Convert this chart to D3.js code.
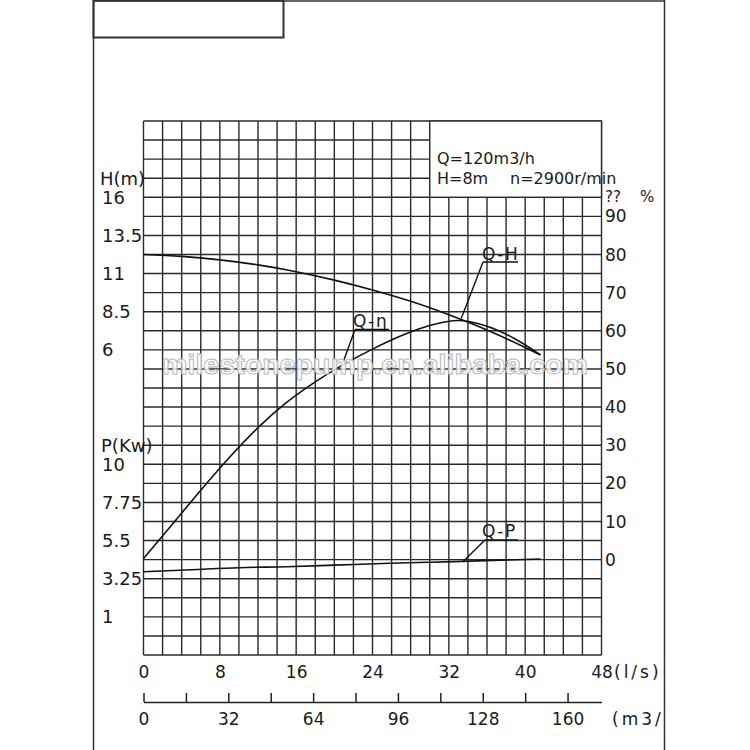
<!DOCTYPE html>
<html><head><meta charset="utf-8">
<script src="https://cdn.jsdelivr.net/npm/d3@7"></script>
<style>html,body{margin:0;padding:0;background:#fff;} svg{display:block;}</style>
</head><body>
<svg id="chart" width="750" height="750"></svg>
<script>
// ---------- data ----------
const flowTicksLs = [0, 8, 16, 24, 32, 40, 48];
const flowTicksM3h = [0, 32, 64, 96, 128, 160];
const flowMinorM3h = [0, 16, 32, 48, 64, 80, 96, 112, 128, 144, 160];
const headTicks = [16, 13.5, 11, 8.5, 6];
const powerTicks = [10, 7.75, 5.5, 3.25, 1];
const effTicks = [90, 80, 70, 60, 50, 40, 30, 20, 10, 0];

const qHead = [0, 4, 8, 12, 16, 20, 24, 28, 32, 36, 40, 41.6];
const headValues = [12.25, 12.13, 11.9, 11.57, 11.12, 10.57, 9.92, 9.18, 8.3, 7.3, 6.15, 5.66];

const qEff = [0, 3, 6, 9, 12, 15, 18, 21, 24, 27, 30, 33, 36, 39, 41.6];
const effValues = [0.3, 9.2, 18.2, 26.8, 34.6, 41.2, 46.6, 51.2, 55.2, 58.7, 61.4, 62.7, 61.2, 57.8, 53.7];

const qPower = [0, 5, 10, 15, 20, 25, 30, 35, 41.6];
const powerValues = [3.66, 3.78, 3.9, 3.96, 4.05, 4.15, 4.22, 4.3, 4.41];

const infoLine1 = "Q=120m3/h";
const infoLine2a = "H=8m";
const infoLine2b = "n=2900r/min";
const watermark = "milestonepump.en.alibaba.com";

// ---------- setup ----------
const svg = d3.select("#chart");
const INK = "#1a1a1a";
const FONT = "'DejaVu Sans', Verdana, sans-serif";

const gx0 = 143.5, gx1 = 601.5, gy0 = 121, gy1 = 655;
const x = d3.scaleLinear().domain([0, 48]).range([gx0, gx1]);
const xM = d3.scaleLinear().domain([0, 172.8]).range([gx0, gx1]);
const col = d3.scaleLinear().domain([0, 24]).range([gx0, gx1]);
const row = d3.scaleLinear().domain([0, 28]).range([gy0, gy1]);
const yH = d3.scaleLinear().domain([16, 6]).range([row(4), row(12)]);
const yE = d3.scaleLinear().domain([90, 0]).range([row(5), row(23)]);
const yP = d3.scaleLinear().domain([10, 1]).range([row(18), row(26)]);

// ---------- outer frame ----------
const frame = svg.append("g").attr("stroke", "#333").attr("fill", "none");
frame.append("line").attr("x1", 93.5).attr("x2", 93.5).attr("y1", 0).attr("y2", 750).attr("stroke-width", 1.5);
frame.append("line").attr("x1", 664.5).attr("x2", 664.5).attr("y1", 0).attr("y2", 750).attr("stroke-width", 1.5);
frame.append("line").attr("x1", 93.5).attr("x2", 664.5).attr("y1", 1).attr("y2", 1).attr("stroke-width", 1.5);
frame.append("rect").attr("x", 93.5).attr("y", 0.5).attr("width", 190).attr("height", 37).attr("stroke-width", 2);

// ---------- grid ----------
const grid = svg.append("g").attr("stroke", "#2a2a2a").attr("stroke-width", 1.4);
grid.selectAll("line.v").data(d3.range(25)).join("line").attr("class", "v")
  .attr("x1", d => col(d)).attr("x2", d => col(d)).attr("y1", gy0).attr("y2", gy1);
grid.selectAll("line.h").data(d3.range(29)).join("line").attr("class", "h")
  .attr("x1", gx0).attr("x2", gx1).attr("y1", d => row(d)).attr("y2", d => row(d));

// info box (covers grid)
svg.append("rect").attr("x", col(15)).attr("y", row(0)).attr("width", col(24) - col(15)).attr("height", row(4) - row(0))
  .attr("fill", "#fff").attr("stroke", "#2a2a2a").attr("stroke-width", 1.4);

// ---------- curves ----------
const curves = svg.append("g").attr("fill", "none").attr("stroke", "#111").attr("stroke-width", 1.6);
const lineH = d3.line().x(d => x(d[0])).y(d => yH(d[1])).curve(d3.curveMonotoneX);
const lineE = d3.line().x(d => x(d[0])).y(d => yE(d[1])).curve(d3.curveMonotoneX);
const lineP = d3.line().x(d => x(d[0])).y(d => yP(d[1])).curve(d3.curveMonotoneX);
curves.append("path").attr("d", lineH(d3.zip(qHead, headValues)));
curves.append("path").attr("d", lineE(d3.zip(qEff, effValues)));
curves.append("path").attr("d", lineP(d3.zip(qPower, powerValues)));

// ---------- annotations ----------
function annotate(label, tx, ty, ulx0, ulx1, uly, tipQ, tipY) {
  const g = svg.append("g");
  g.append("text").attr("x", tx).attr("y", ty).attr("font-family", FONT).attr("font-size", 17)
    .attr("letter-spacing", 1.5).attr("fill", INK).text(label);
  g.append("line").attr("x1", ulx0).attr("x2", ulx1).attr("y1", uly).attr("y2", uly)
    .attr("stroke", "#111").attr("stroke-width", 1.4);
  g.append("line").attr("x1", ulx0).attr("x2", x(tipQ)).attr("y1", uly).attr("y2", tipY)
    .attr("stroke", "#111").attr("stroke-width", 1.4);
}
annotate("Q-H", 482, 260, 483, 518, 262, 33.3, yH(8.05));
annotate("Q-η", 353, 327, 355, 389, 329.5, 20.9, yE(51.6));
annotate("Q-P", 482, 537, 485, 518, 540, 33.5, yP(4.27));

// ---------- info text ----------
const info = svg.append("g").attr("font-family", FONT).attr("font-size", 16).attr("fill", INK);
info.append("text").attr("x", 437).attr("y", 164).text(infoLine1);
info.append("text").attr("x", 437).attr("y", 184).text(infoLine2a);
info.append("text").attr("x", 510).attr("y", 184).text(infoLine2b);

// ---------- left axes labels ----------
const left = svg.append("g").attr("font-family", FONT).attr("font-size", 18).attr("fill", INK);
left.append("text").attr("x", 100).attr("y", row(3)).attr("dy", "0.36em").text("H(m)");
left.selectAll("text.h").data(headTicks).join("text").attr("class", "h")
  .attr("x", 102).attr("y", d => yH(d)).attr("dy", "0.36em").text(d => d);
left.append("text").attr("x", 101).attr("y", row(17)).attr("dy", "0.36em").text("P(Kw)");
left.selectAll("text.p").data(powerTicks).join("text").attr("class", "p")
  .attr("x", 102).attr("y", d => yP(d)).attr("dy", "0.36em").text(d => d);

// ---------- right axis labels ----------
const right = svg.append("g").attr("font-family", FONT).attr("font-size", 17).attr("fill", INK);
right.append("text").attr("x", 605).attr("y", 202).attr("font-size", 15).text("??");
right.append("text").attr("x", 640).attr("y", 202).attr("font-size", 15).text("%");
right.selectAll("text.e").data(effTicks).join("text").attr("class", "e")
  .attr("x", 605).attr("y", d => yE(d)).attr("dy", "0.36em").text(d => d);

// ---------- bottom axes ----------
const axLs = svg.append("g").attr("transform", `translate(0,${gy1})`)
  .call(d3.axisBottom(x).tickValues(flowTicksLs).tickSize(0).tickPadding(11).tickFormat(d3.format("d")));
axLs.select(".domain").remove();
axLs.selectAll("text").attr("font-family", FONT).attr("font-size", 17).attr("fill", INK);
svg.append("text").attr("x", 614).attr("y", 672).attr("dy", "0.36em").attr("letter-spacing", 3)
  .attr("font-family", FONT).attr("font-size", 17).attr("fill", INK).text("(l/s)");

const axY = 702;
const axMt = svg.append("g").attr("transform", `translate(0,${axY})`)
  .call(d3.axisTop(xM).tickValues(flowMinorM3h).tickSize(9).tickSizeOuter(0).tickFormat(""));
axMt.select(".domain").attr("stroke", "#222").attr("stroke-width", 1.5);
axMt.selectAll(".tick line").attr("stroke", "#222").attr("stroke-width", 1.5);

const axMb = svg.append("g").attr("transform", `translate(0,${axY})`)
  .call(d3.axisBottom(xM).tickValues(flowTicksM3h).tickSize(0).tickPadding(11).tickFormat(d3.format("d")));
axMb.select(".domain").remove();
axMb.selectAll("text").attr("font-family", FONT).attr("font-size", 17).attr("fill", INK);

svg.append("clipPath").attr("id", "frameClip").append("rect").attr("x", 0).attr("y", 0).attr("width", 664).attr("height", 750);
svg.append("text").attr("x", 612).attr("y", 719).attr("dy", "0.36em").attr("clip-path", "url(#frameClip)")
  .attr("letter-spacing", 3).attr("font-family", FONT).attr("font-size", 17).attr("fill", INK).text("(m3/h)");

// ---------- watermark ----------
svg.append("text").attr("x", 162).attr("y", 374).attr("textLength", 426).attr("lengthAdjust", "spacingAndGlyphs")
  .attr("font-family", "'Liberation Sans', Arial, sans-serif").attr("font-weight", "bold").attr("font-size", 27)
  .attr("fill", "#ffffff").attr("fill-opacity", 0.85).attr("stroke", "#b8b8b8").attr("stroke-width", 1)
  .text(watermark);
</script>
</body></html>
